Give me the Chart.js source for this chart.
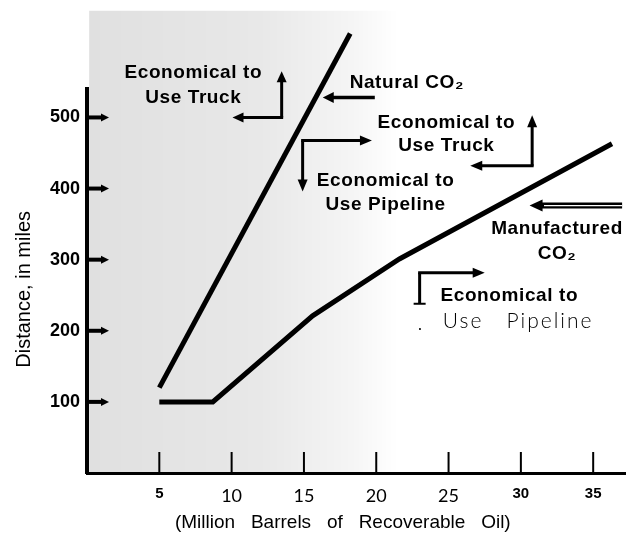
<!DOCTYPE html>
<html>
<head>
<meta charset="utf-8">
<script src="https://cdn.jsdelivr.net/npm/chart.js@4.4.1/dist/chart.umd.min.js"></script>
<style>
  html, body { margin: 0; padding: 0; background: #fff; }
  #wrap { width: 632px; height: 536px; }
</style>
</head>
<body>
<div id="wrap"><canvas id="chart" width="632" height="536"></canvas></div>
<script>
// values
const naturalX = [5, 18.2];
const naturalY = [120, 618];
const manufacturedX = [5, 8.7, 15.6, 21.6, 36.3];
const manufacturedY = [100, 100, 221, 301, 463];
const xTicks = [5, 10, 15, 20, 25, 30, 35];
const yTicks = [100, 200, 300, 400, 500];
const boldXTicks = [5, 30, 35];

const BOLD = "'Liberation Sans', Arial, Helvetica, sans-serif";
const LIGHT = "Lato, 'Open Sans', sans-serif";

function arrowHead(ctx, x, y, dir, len, half) {
    // dir: 'up' | 'down' | 'left' | 'right', tip at (x, y)
    ctx.beginPath();
    if (dir === "up") { ctx.moveTo(x, y); ctx.lineTo(x - half, y + len); ctx.lineTo(x + half, y + len); }
    if (dir === "down") { ctx.moveTo(x, y); ctx.lineTo(x - half, y - len); ctx.lineTo(x + half, y - len); }
    if (dir === "left") { ctx.moveTo(x, y); ctx.lineTo(x + len, y - half); ctx.lineTo(x + len, y + half); }
    if (dir === "right") { ctx.moveTo(x, y); ctx.lineTo(x - len, y - half); ctx.lineTo(x - len, y + half); }
    ctx.closePath();
    ctx.fill();
}

function seg(ctx, x1, y1, x2, y2, w) {
    ctx.lineWidth = w;
    ctx.beginPath();
    ctx.moveTo(x1, y1);
    ctx.lineTo(x2, y2);
    ctx.stroke();
}

const decor = {
    id: "decor",
    beforeDraw(chart) {
        // grey scanned shading behind the left part of the plot
        const { ctx, scales: { x, y } } = chart;
        const left = x.getPixelForValue(0.15), right = x.getPixelForValue(21.5);
        const top = y.getPixelForValue(650), bottom = y.getPixelForValue(0);
        const g = ctx.createLinearGradient(left, 0, right, 0);
        g.addColorStop(0, "rgba(0,0,0,0.12)");
        g.addColorStop(0.55, "rgba(0,0,0,0.09)");
        g.addColorStop(0.85, "rgba(0,0,0,0.04)");
        g.addColorStop(1, "rgba(0,0,0,0)");
        ctx.save();
        ctx.fillStyle = g;
        ctx.fillRect(left, top, right - left, bottom - top);
        ctx.restore();
    },
    afterDatasetsDraw(chart) {
        const { ctx, scales: { x, y } } = chart;
        const px = v => x.getPixelForValue(v);
        const py = v => y.getPixelForValue(v);
        ctx.save();
        ctx.strokeStyle = "#000";
        ctx.fillStyle = "#000";

        // inside tick marks
        const x0 = px(0);
        yTicks.forEach(v => {
            seg(ctx, x0, py(v), x0 + 16, py(v), 4);
            arrowHead(ctx, x0 + 22, py(v), "right", 8, 4);
        });
        const yb = py(0);
        xTicks.forEach(v => seg(ctx, px(v), yb, px(v), yb - 21, 2));

        // arrows
        // top-left: Economical to Use Truck
        seg(ctx, px(13.46), py(500), px(13.46), py(555), 3);
        arrowHead(ctx, px(13.46), py(565), "up", 11, 5);
        seg(ctx, px(13.46) + 1.5, py(500), px(10.7), py(500), 3);
        arrowHead(ctx, px(10.06), py(500), "left", 11, 5);
        // Natural CO2 pointer
        seg(ctx, px(19.9), py(528), px(17.0), py(528), 3.5);
        arrowHead(ctx, px(16.3), py(528), "left", 11, 5.5);
        // split arrow from natural line
        seg(ctx, px(14.91), py(467.6), px(14.91), py(406), 3);
        arrowHead(ctx, px(14.91), py(396), "down", 12, 5);
        seg(ctx, px(14.91) - 1.5, py(467.6), px(19.0), py(467.6), 3);
        arrowHead(ctx, px(19.7), py(467.6), "right", 12, 5);
        // right: Economical to Use Truck
        seg(ctx, px(30.78), py(432), px(30.78), py(492), 3);
        arrowHead(ctx, px(30.78), py(503), "up", 12, 5);
        seg(ctx, px(30.78) + 1.5, py(432), px(27.2), py(432), 3);
        arrowHead(ctx, px(26.5), py(432), "left", 12, 5);
        // manufactured double arrow
        seg(ctx, px(37.0), py(376), px(31.3), py(376), 6);
        ctx.strokeStyle = "#fff";
        seg(ctx, px(37.0), py(376), px(31.6), py(376), 1.2);
        ctx.strokeStyle = "#000";
        arrowHead(ctx, px(30.6), py(376), "left", 13, 6);
        // bottom: Economical to Use Pipeline
        seg(ctx, px(23.0), py(281.7), px(23.0), py(238), 3);
        seg(ctx, px(23.0) - 6, py(238), px(23.0) + 6, py(238), 2);
        seg(ctx, px(23.0) - 1.5, py(281.7), px(26.8), py(281.7), 3);
        arrowHead(ctx, px(27.5), py(281.7), "right", 12, 5);

        // labels
        ctx.textBaseline = "middle";
        ctx.letterSpacing = "0.6px";
        ctx.font = "bold 19px " + BOLD;
        ctx.textAlign = "center";
        const two = (a, b, cx, y1, y2) => { ctx.fillText(a, px(cx), py(y1)); ctx.fillText(b, px(cx), py(y2)); };
        two("Economical to", "Use Truck", 7.35, 563, 527);
        two("Economical to", "Use Truck", 24.85, 493, 460.6);
        two("Economical to", "Use Pipeline", 20.65, 411, 377.5);
        two("Manufactured", "CO\u2082", 32.5, 343.7, 308.5);
        ctx.fillText("Economical to", px(29.2), py(249));
        ctx.textAlign = "left";
        ctx.fillText("Natural CO\u2082", px(18.16), py(549));
        ctx.letterSpacing = "2px";
        ctx.font = "300 21px " + LIGHT;
        ctx.fillText("Use   Pipeline", px(24.6), py(214));
        ctx.fillText(".", px(22.85), py(210));
        ctx.restore();
    }
};

const ctx = document.getElementById("chart").getContext("2d");
new Chart(ctx, {
    type: "line",
    data: {
        datasets: [
            {
                label: "Natural CO2",
                data: naturalX.map((v, i) => ({ x: v, y: naturalY[i] })),
                borderColor: "#000",
                borderWidth: 5,
                pointRadius: 0,
                tension: 0,
                clip: false
            },
            {
                label: "Manufactured CO2",
                data: manufacturedX.map((v, i) => ({ x: v, y: manufacturedY[i] })),
                borderColor: "#000",
                borderWidth: 5,
                pointRadius: 0,
                tension: 0,
                clip: false
            }
        ]
    },
    options: {
        responsive: false,
        animation: false,
        layout: { padding: { top: 89, right: 7, left: 0, bottom: 0 } },
        plugins: { legend: { display: false }, tooltip: { enabled: false } },
        scales: {
            x: {
                type: "linear",
                min: 0,
                max: 37.2,
                afterBuildTicks: s => { s.ticks = xTicks.map(v => ({ value: v })); },
                afterFit: s => { s.height = 63; },
                grid: { display: false, drawTicks: false },
                border: { display: true, color: "#000", width: 3 },
                ticks: {
                    color: "#000",
                    padding: 12,
                    maxRotation: 0,
                    font: c => boldXTicks.includes(c.tick && c.tick.value)
                        ? { family: BOLD, size: 15, weight: "bold" }
                        : { family: LIGHT, size: 18, weight: "normal" }
                },
                title: {
                    display: true,
                    // trailing spaces nudge the centred title left, as in the scan
                    text: "(Million   Barrels   of   Recoverable   Oil)     ",
                    color: "#000",
                    font: { family: BOLD, size: 19 },
                    padding: { top: 0, bottom: 2 }
                }
            },
            y: {
                min: 0,
                max: 540,
                afterBuildTicks: s => { s.ticks = yTicks.map(v => ({ value: v })); },
                afterFit: s => { s.width = 87; },
                grid: { display: false, drawTicks: false },
                border: { display: true, color: "#000", width: 4 },
                ticks: {
                    color: "#000",
                    padding: 7,
                    font: { family: BOLD, size: 18, weight: "bold" }
                },
                title: {
                    display: true,
                    text: "Distance, in miles   ",
                    color: "#000",
                    font: { family: BOLD, size: 20 },
                    padding: { top: 12, bottom: 0 }
                }
            }
        }
    },
    plugins: [decor]
});
</script>
</body>
</html>
